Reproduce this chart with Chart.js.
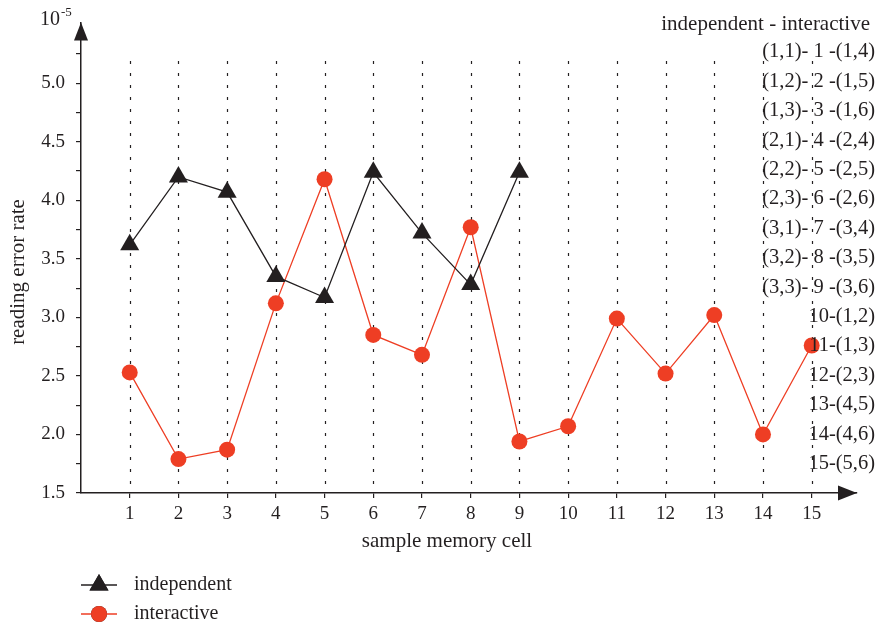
<!DOCTYPE html>
<html>
<head>
<meta charset="utf-8">
<script src="https://cdn.jsdelivr.net/npm/chart.js@4.4.1/dist/chart.umd.min.js"></script>
<style>
  html, body { margin: 0; padding: 0; background: #fff; }
</style>
</head>
<body>
<canvas id="chart" width="876" height="624"></canvas>
<script>
// data (values in units of 10^-5)
const cells = [1, 2, 3, 4, 5, 6, 7, 8, 9, 10, 11, 12, 13, 14, 15];
const independent = [3.62, 4.20, 4.07, 3.35, 3.17, 4.24, 3.72, 3.28, 4.24];
const interactive = [2.53, 1.79, 1.87, 3.12, 4.18, 2.85, 2.68, 3.77, 1.94, 2.07, 2.99, 2.52, 3.02, 2.00, 2.76];
const yTicks = [1.5, 1.75, 2.0, 2.25, 2.5, 2.75, 3.0, 3.25, 3.5, 3.75, 4.0, 4.25, 4.5, 4.75, 5.0, 5.25];
const indepPairs = ['(1,1)', '(1,2)', '(1,3)', '(2,1)', '(2,2)', '(2,3)', '(3,1)', '(3,2)', '(3,3)'];
const interPairs = ['(1,4)', '(1,5)', '(1,6)', '(2,4)', '(2,5)', '(2,6)', '(3,4)', '(3,5)', '(3,6)',
                    '(1,2)', '(1,3)', '(2,3)', '(4,5)', '(4,6)', '(5,6)'];
const xTitle = 'sample memory cell';
const yTitle = 'reading error rate';

const INK = '#231f20';
const RED = '#ee3e24';
const FONT = "'Liberation Serif', 'DejaVu Serif', serif";

// extra drawing: dotted guides, arrows, titles, unit label, mapping list, legend
const decor = {
  id: 'decor',
  beforeDatasetsDraw(chart) {
    const { ctx, scales: { x, y } } = chart;
    ctx.save();
    ctx.strokeStyle = INK;
    ctx.lineWidth = 1.2;
    ctx.setLineDash([3, 9]);
    const top = y.getPixelForValue(5.19);
    cells.forEach(c => {
      const px = Math.round(x.getPixelForValue(c)) + 0.5;
      ctx.beginPath();
      ctx.moveTo(px, top);
      ctx.lineTo(px, y.bottom);
      ctx.stroke();
    });
    ctx.restore();
  },
  afterDraw(chart) {
    const { ctx, chartArea: a } = chart;
    ctx.save();
    ctx.fillStyle = INK;

    // axis arrows
    ctx.beginPath();
    ctx.moveTo(a.left, a.top);
    ctx.lineTo(a.left - 7, a.top + 18);
    ctx.lineTo(a.left + 7, a.top + 18);
    ctx.closePath();
    ctx.fill();
    ctx.beginPath();
    ctx.moveTo(a.right, a.bottom);
    ctx.lineTo(a.right - 19, a.bottom - 7.5);
    ctx.lineTo(a.right - 19, a.bottom + 7.5);
    ctx.closePath();
    ctx.fill();

    // axis titles
    ctx.font = `21px ${FONT}`;
    ctx.textAlign = 'center';
    ctx.textBaseline = 'middle';
    ctx.fillText(xTitle, 447, 541);
    ctx.save();
    ctx.translate(18, 272);
    ctx.rotate(-Math.PI / 2);
    ctx.fillText(yTitle, 0, 0);
    ctx.restore();

    // unit 10^-5
    ctx.textBaseline = 'alphabetic';
    ctx.textAlign = 'left';
    ctx.font = `20px ${FONT}`;
    ctx.fillText('10', 40, 25);
    ctx.font = `13px ${FONT}`;
    ctx.fillText('-5', 61, 16);

    // mapping list on the right
    ctx.textAlign = 'right';
    ctx.textBaseline = 'middle';
    ctx.font = `21px ${FONT}`;
    ctx.fillText('independent - interactive', 870, 24);
    ctx.font = `20.5px ${FONT}`;
    cells.forEach((c, i) => {
      const txt = i < indepPairs.length
        ? `${indepPairs[i]}- ${c} -${interPairs[i]}`
        : `${c}-${interPairs[i]}`;
      ctx.fillText(txt, 875, 52 + i * 29.4);
    });

    // legend
    ctx.textAlign = 'left';
    ctx.font = `20px ${FONT}`;
    chart.data.datasets.forEach((ds, i) => {
      const ly = 585 + i * 29;
      ctx.strokeStyle = ds.borderColor;
      ctx.lineWidth = ds.borderWidth;
      ctx.setLineDash([]);
      ctx.beginPath();
      ctx.moveTo(81, ly);
      ctx.lineTo(117, ly);
      ctx.stroke();
      Chart.helpers.drawPoint(ctx, {
        pointStyle: ds.pointStyle,
        radius: ds.pointRadius,
        borderWidth: 0,
        rotation: 0
      }, 99, ly);
      ctx.fillStyle = ds.pointBackgroundColor;
      ctx.fill();
      ctx.fillStyle = INK;
      ctx.fillText(ds.label, 134, ly);
    });
    ctx.restore();
  }
};

new Chart(document.getElementById('chart'), {
  type: 'line',
  data: {
    datasets: [
      {
        label: 'independent',
        data: independent.map((v, i) => ({ x: cells[i], y: v })),
        borderColor: INK,
        backgroundColor: INK,
        pointBackgroundColor: INK,
        pointBorderColor: INK,
        pointBorderWidth: 0,
        borderWidth: 1.3,
        pointStyle: 'triangle',
        pointRadius: 11,
        tension: 0
      },
      {
        label: 'interactive',
        data: interactive.map((v, i) => ({ x: cells[i], y: v })),
        borderColor: RED,
        backgroundColor: RED,
        pointBackgroundColor: RED,
        pointBorderColor: RED,
        pointBorderWidth: 0,
        borderWidth: 1.3,
        pointStyle: 'circle',
        pointRadius: 8,
        tension: 0
      }
    ]
  },
  options: {
    responsive: false,
    animation: false,
    devicePixelRatio: 1,
    layout: { padding: { top: 20, right: 19, left: 0, bottom: 0 }, autoPadding: false },
    plugins: { legend: { display: false }, tooltip: { enabled: false } },
    scales: {
      x: {
        type: 'linear',
        min: 0,
        max: 15.93,
        afterBuildTicks: s => { s.ticks = cells.map(v => ({ value: v })); },
        afterFit: s => { s.height = 131; },
        grid: { drawOnChartArea: false, drawTicks: true, tickLength: 5, color: INK, lineWidth: 1.2 },
        border: { display: true, color: INK, width: 1.5 },
        ticks: { color: INK, font: { family: FONT, size: 19 }, padding: 5, maxRotation: 0, autoSkip: false }
      },
      y: {
        type: 'linear',
        min: 1.5,
        max: 5.52,
        afterBuildTicks: s => { s.ticks = yTicks.map(v => ({ value: v })); },
        afterFit: s => { s.width = 81; },
        grid: { drawOnChartArea: false, drawTicks: true, tickLength: 5, color: INK, lineWidth: 1.2 },
        border: { display: true, color: INK, width: 1.5 },
        ticks: {
          color: INK, font: { family: FONT, size: 19 }, padding: 11, autoSkip: false,
          callback: v => (Math.round(v * 100) % 50 === 0 && v <= 5) ? v.toFixed(1) : ''
        }
      }
    }
  },
  plugins: [decor]
});
</script>
</body>
</html>
